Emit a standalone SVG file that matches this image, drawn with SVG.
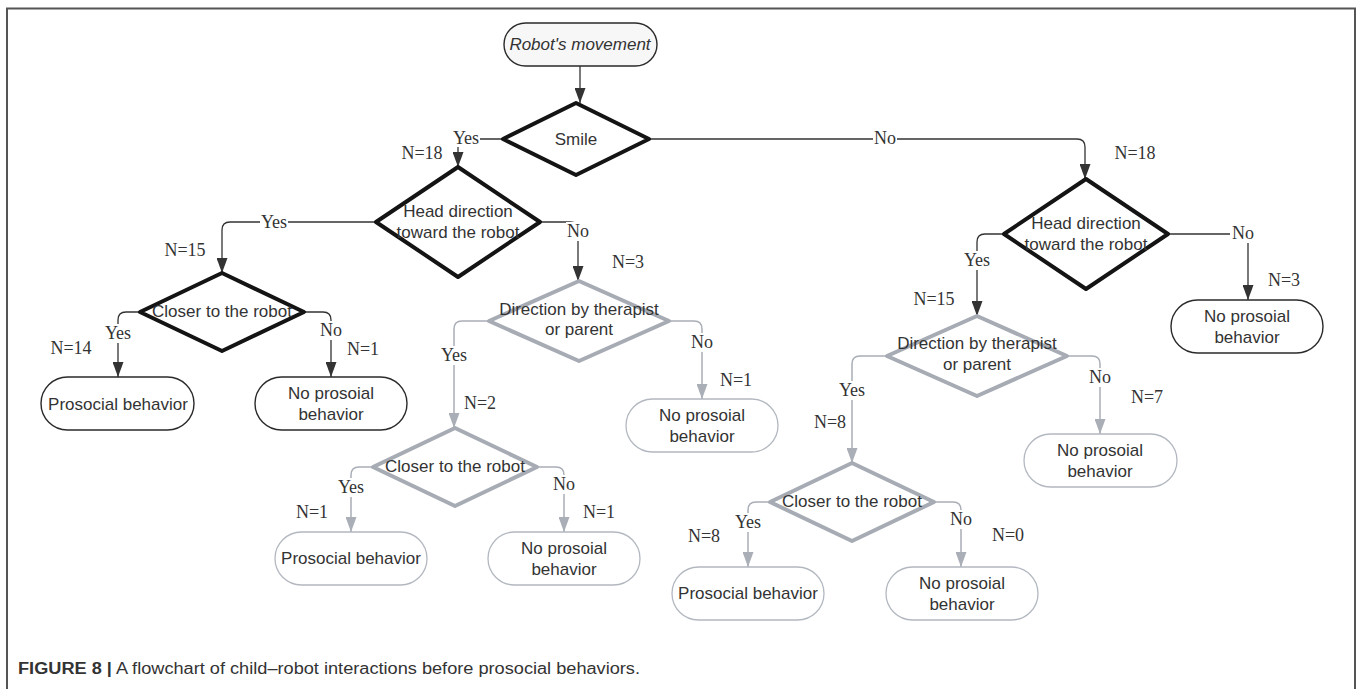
<svg xmlns="http://www.w3.org/2000/svg" width="1358" height="689" viewBox="0 0 1358 689">
<style>
  .bg { fill: #ffffff; }
  .frame { stroke: #555; stroke-width: 2; fill: none; }
  .dk { fill: #fff; stroke: #141414; stroke-width: 4; stroke-linejoin: round; }
  .gd { fill: #fff; stroke: #a6abb4; stroke-width: 4; stroke-linejoin: round; }
  .pk { fill: #fff; stroke: #2a2a2a; stroke-width: 1.4; }
  .pg { fill: #fff; stroke: #b3b8c0; stroke-width: 1.3; }
  .nt { font-family: "Liberation Sans", Arial, sans-serif; font-size: 17px; fill: #333; text-anchor: middle; }
  .el { font-family: "Liberation Serif", "Times New Roman", serif; font-size: 18px; fill: #333; text-anchor: middle; }
  .ck { fill: none; stroke: #333; stroke-width: 1.3; }
  .cg { fill: none; stroke: #a9aeb7; stroke-width: 1.5; }
  .lb { fill: #fff; }
  .cap { font-family: "Liberation Sans", Arial, sans-serif; font-size: 16px; fill: #333; }
</style>
<defs>
  <marker id="ak" viewBox="0 0 15 11" refX="15" refY="5.5" markerUnits="userSpaceOnUse" markerWidth="15" markerHeight="11" orient="auto">
    <path d="M0,0 L15,5.5 L0,11 z" fill="#333"/>
  </marker>
  <marker id="ag" viewBox="0 0 15 11" refX="15" refY="5.5" markerUnits="userSpaceOnUse" markerWidth="15" markerHeight="11" orient="auto">
    <path d="M0,0 L15,5.5 L0,11 z" fill="#a9aeb7"/>
  </marker>
</defs>
<rect class="bg" x="0" y="0" width="1358" height="689"/>
<path class="frame" d="M7,689 V8.5 H1355 V689"/>

<g id="connectors">
  <path class="ck" d="M580,66 V103" marker-end="url(#ak)"/>
  <path class="ck" d="M503,139 H466 Q458,139 458,147 V167" marker-end="url(#ak)"/>
  <path class="ck" d="M649,139 H1077 Q1085,139 1085,147 V179" marker-end="url(#ak)"/>
  <path class="ck" d="M376,222 H230 Q222,222 222,230 V273" marker-end="url(#ak)"/>
  <path class="ck" d="M540,222 H570 Q578,222 578,230 V281" marker-end="url(#ak)"/>
  <path class="ck" d="M140,312 H126 Q118,312 118,320 V377" marker-end="url(#ak)"/>
  <path class="ck" d="M304,312 H323 Q331,312 331,320 V377" marker-end="url(#ak)"/>
  <path class="ck" d="M1004,234 H985 Q977,234 977,242 V316" marker-end="url(#ak)"/>
  <path class="ck" d="M1168,234 H1240 Q1248,234 1248,242 V300" marker-end="url(#ak)"/>
  <path class="cg" d="M489,321 H462 Q454,321 454,329 V428" marker-end="url(#ag)"/>
  <path class="cg" d="M669,321 H694 Q702,321 702,329 V399" marker-end="url(#ag)"/>
  <path class="cg" d="M373,467 H359 Q351,467 351,475 V532" marker-end="url(#ag)"/>
  <path class="cg" d="M537,467 H556 Q564,467 564,475 V532" marker-end="url(#ag)"/>
  <path class="cg" d="M887,356 H860 Q852,356 852,364 V463" marker-end="url(#ag)"/>
  <path class="cg" d="M1067,356 H1092 Q1100,356 1100,364 V434" marker-end="url(#ag)"/>
  <path class="cg" d="M770,502 H756 Q748,502 748,510 V567" marker-end="url(#ag)"/>
  <path class="cg" d="M934,502 H953 Q961,502 961,510 V567" marker-end="url(#ag)"/>

  <rect class="lb" x="452" y="129" width="28" height="18"/><text class="el" x="466" y="144">Yes</text>
  <rect class="lb" x="873" y="129" width="24" height="18"/><text class="el" x="885" y="144">No</text>
  <rect class="lb" x="260" y="213" width="28" height="18"/><text class="el" x="274" y="228">Yes</text>
  <rect class="lb" x="566" y="222" width="24" height="19"/><text class="el" x="578" y="237">No</text>
  <rect class="lb" x="104" y="324" width="28" height="19"/><text class="el" x="118" y="339">Yes</text>
  <rect class="lb" x="319" y="321" width="24" height="19"/><text class="el" x="331" y="336">No</text>
  <rect class="lb" x="963" y="251" width="28" height="19"/><text class="el" x="977" y="266">Yes</text>
  <rect class="lb" x="1230" y="224" width="26" height="19"/><text class="el" x="1243" y="239">No</text>
  <rect class="lb" x="440" y="346" width="28" height="19"/><text class="el" x="454" y="361">Yes</text>
  <rect class="lb" x="690" y="333" width="24" height="19"/><text class="el" x="702" y="348">No</text>
  <rect class="lb" x="337" y="478" width="28" height="19"/><text class="el" x="351" y="493">Yes</text>
  <rect class="lb" x="552" y="475" width="24" height="19"/><text class="el" x="564" y="490">No</text>
  <rect class="lb" x="838" y="381" width="28" height="19"/><text class="el" x="852" y="396">Yes</text>
  <rect class="lb" x="1088" y="368" width="24" height="19"/><text class="el" x="1100" y="383">No</text>
  <rect class="lb" x="734" y="513" width="28" height="19"/><text class="el" x="748" y="528">Yes</text>
  <rect class="lb" x="949" y="510" width="24" height="19"/><text class="el" x="961" y="525">No</text>

  <text class="el" x="422" y="159">N=18</text>
  <text class="el" x="1135" y="159">N=18</text>
  <text class="el" x="185" y="256">N=15</text>
  <text class="el" x="628" y="268">N=3</text>
  <text class="el" x="71" y="354">N=14</text>
  <text class="el" x="363" y="355">N=1</text>
  <text class="el" x="934" y="305">N=15</text>
  <text class="el" x="1284" y="286">N=3</text>
  <text class="el" x="480" y="409">N=2</text>
  <text class="el" x="736" y="386">N=1</text>
  <text class="el" x="312" y="518">N=1</text>
  <text class="el" x="599" y="518">N=1</text>
  <text class="el" x="830" y="428">N=8</text>
  <text class="el" x="1147" y="403">N=7</text>
  <text class="el" x="704" y="542">N=8</text>
  <text class="el" x="1008" y="541">N=0</text>
</g>

<g id="start">
  <rect x="504" y="23" width="153" height="43" rx="21.5" fill="#f7f7f7" stroke="#2a2a2a" stroke-width="1.4"/>
  <text class="nt" x="580" y="50" font-style="italic">Robot's movement</text>
</g>
<g id="smile">
  <polygon class="dk" points="576,103 649,139 576,175 503,139"/>
  <text class="nt" x="576" y="145">Smile</text>
</g>
<g id="head-left">
  <polygon class="dk" points="458,167 540,222 458,277 376,222"/>
  <text class="nt" x="458" y="217">Head direction</text>
  <text class="nt" x="458" y="238">toward the robot</text>
</g>
<g id="closer-left">
  <polygon class="dk" points="222,273 304,312 222,351 140,312"/>
  <text class="nt" x="222" y="317">Closer to the robot</text>
</g>
<g id="prosocial-left">
  <rect class="pk" x="41" y="377" width="153" height="53" rx="26.5"/>
  <text class="nt" x="118" y="410">Prosocial behavior</text>
</g>
<g id="noprosocial-left">
  <rect class="pk" x="255" y="377" width="152" height="53" rx="26.5"/>
  <text class="nt" x="331" y="399">No prosoial</text>
  <text class="nt" x="331" y="420">behavior</text>
</g>
<g id="head-right">
  <polygon class="dk" points="1086,179 1168,234 1086,289 1004,234"/>
  <text class="nt" x="1086" y="229">Head direction</text>
  <text class="nt" x="1086" y="250">toward the robot</text>
</g>
<g id="noprosocial-right-top">
  <rect class="pk" x="1171" y="300" width="152" height="53" rx="26.5"/>
  <text class="nt" x="1247" y="322">No prosoial</text>
  <text class="nt" x="1247" y="343">behavior</text>
</g>
<g id="direction-mid">
  <polygon class="gd" points="579,281 669,321 579,361 489,321"/>
  <text class="nt" x="579" y="315">Direction by therapist</text>
  <text class="nt" x="579" y="335">or parent</text>
</g>
<g id="noprosocial-mid">
  <rect class="pg" x="626" y="399" width="152" height="53" rx="26.5"/>
  <text class="nt" x="702" y="421">No prosoial</text>
  <text class="nt" x="702" y="442">behavior</text>
</g>
<g id="closer-mid">
  <polygon class="gd" points="455,428 537,467 455,506 373,467"/>
  <text class="nt" x="455" y="472">Closer to the robot</text>
</g>
<g id="prosocial-mid">
  <rect class="pg" x="275" y="532" width="152" height="53" rx="26.5"/>
  <text class="nt" x="351" y="564">Prosocial behavior</text>
</g>
<g id="noprosocial-mid-2">
  <rect class="pg" x="488" y="532" width="152" height="53" rx="26.5"/>
  <text class="nt" x="564" y="554">No prosoial</text>
  <text class="nt" x="564" y="575">behavior</text>
</g>
<g id="direction-right">
  <polygon class="gd" points="977,316 1067,356 977,396 887,356"/>
  <text class="nt" x="977" y="349">Direction by therapist</text>
  <text class="nt" x="977" y="370">or parent</text>
</g>
<g id="noprosocial-right">
  <rect class="pg" x="1024" y="434" width="153" height="53" rx="26.5"/>
  <text class="nt" x="1100" y="456">No prosoial</text>
  <text class="nt" x="1100" y="477">behavior</text>
</g>
<g id="closer-right">
  <polygon class="gd" points="852,463 934,502 852,541 770,502"/>
  <text class="nt" x="852" y="507">Closer to the robot</text>
</g>
<g id="prosocial-right">
  <rect class="pg" x="672" y="567" width="152" height="53" rx="26.5"/>
  <text class="nt" x="748" y="599">Prosocial behavior</text>
</g>
<g id="noprosocial-right-2">
  <rect class="pg" x="886" y="567" width="152" height="53" rx="26.5"/>
  <text class="nt" x="962" y="589">No prosoial</text>
  <text class="nt" x="962" y="610">behavior</text>
</g>

<text class="cap" x="18" y="674" textLength="622" lengthAdjust="spacingAndGlyphs"><tspan font-weight="bold">FIGURE 8 |</tspan> A flowchart of child–robot interactions before prosocial behaviors.</text>
</svg>
